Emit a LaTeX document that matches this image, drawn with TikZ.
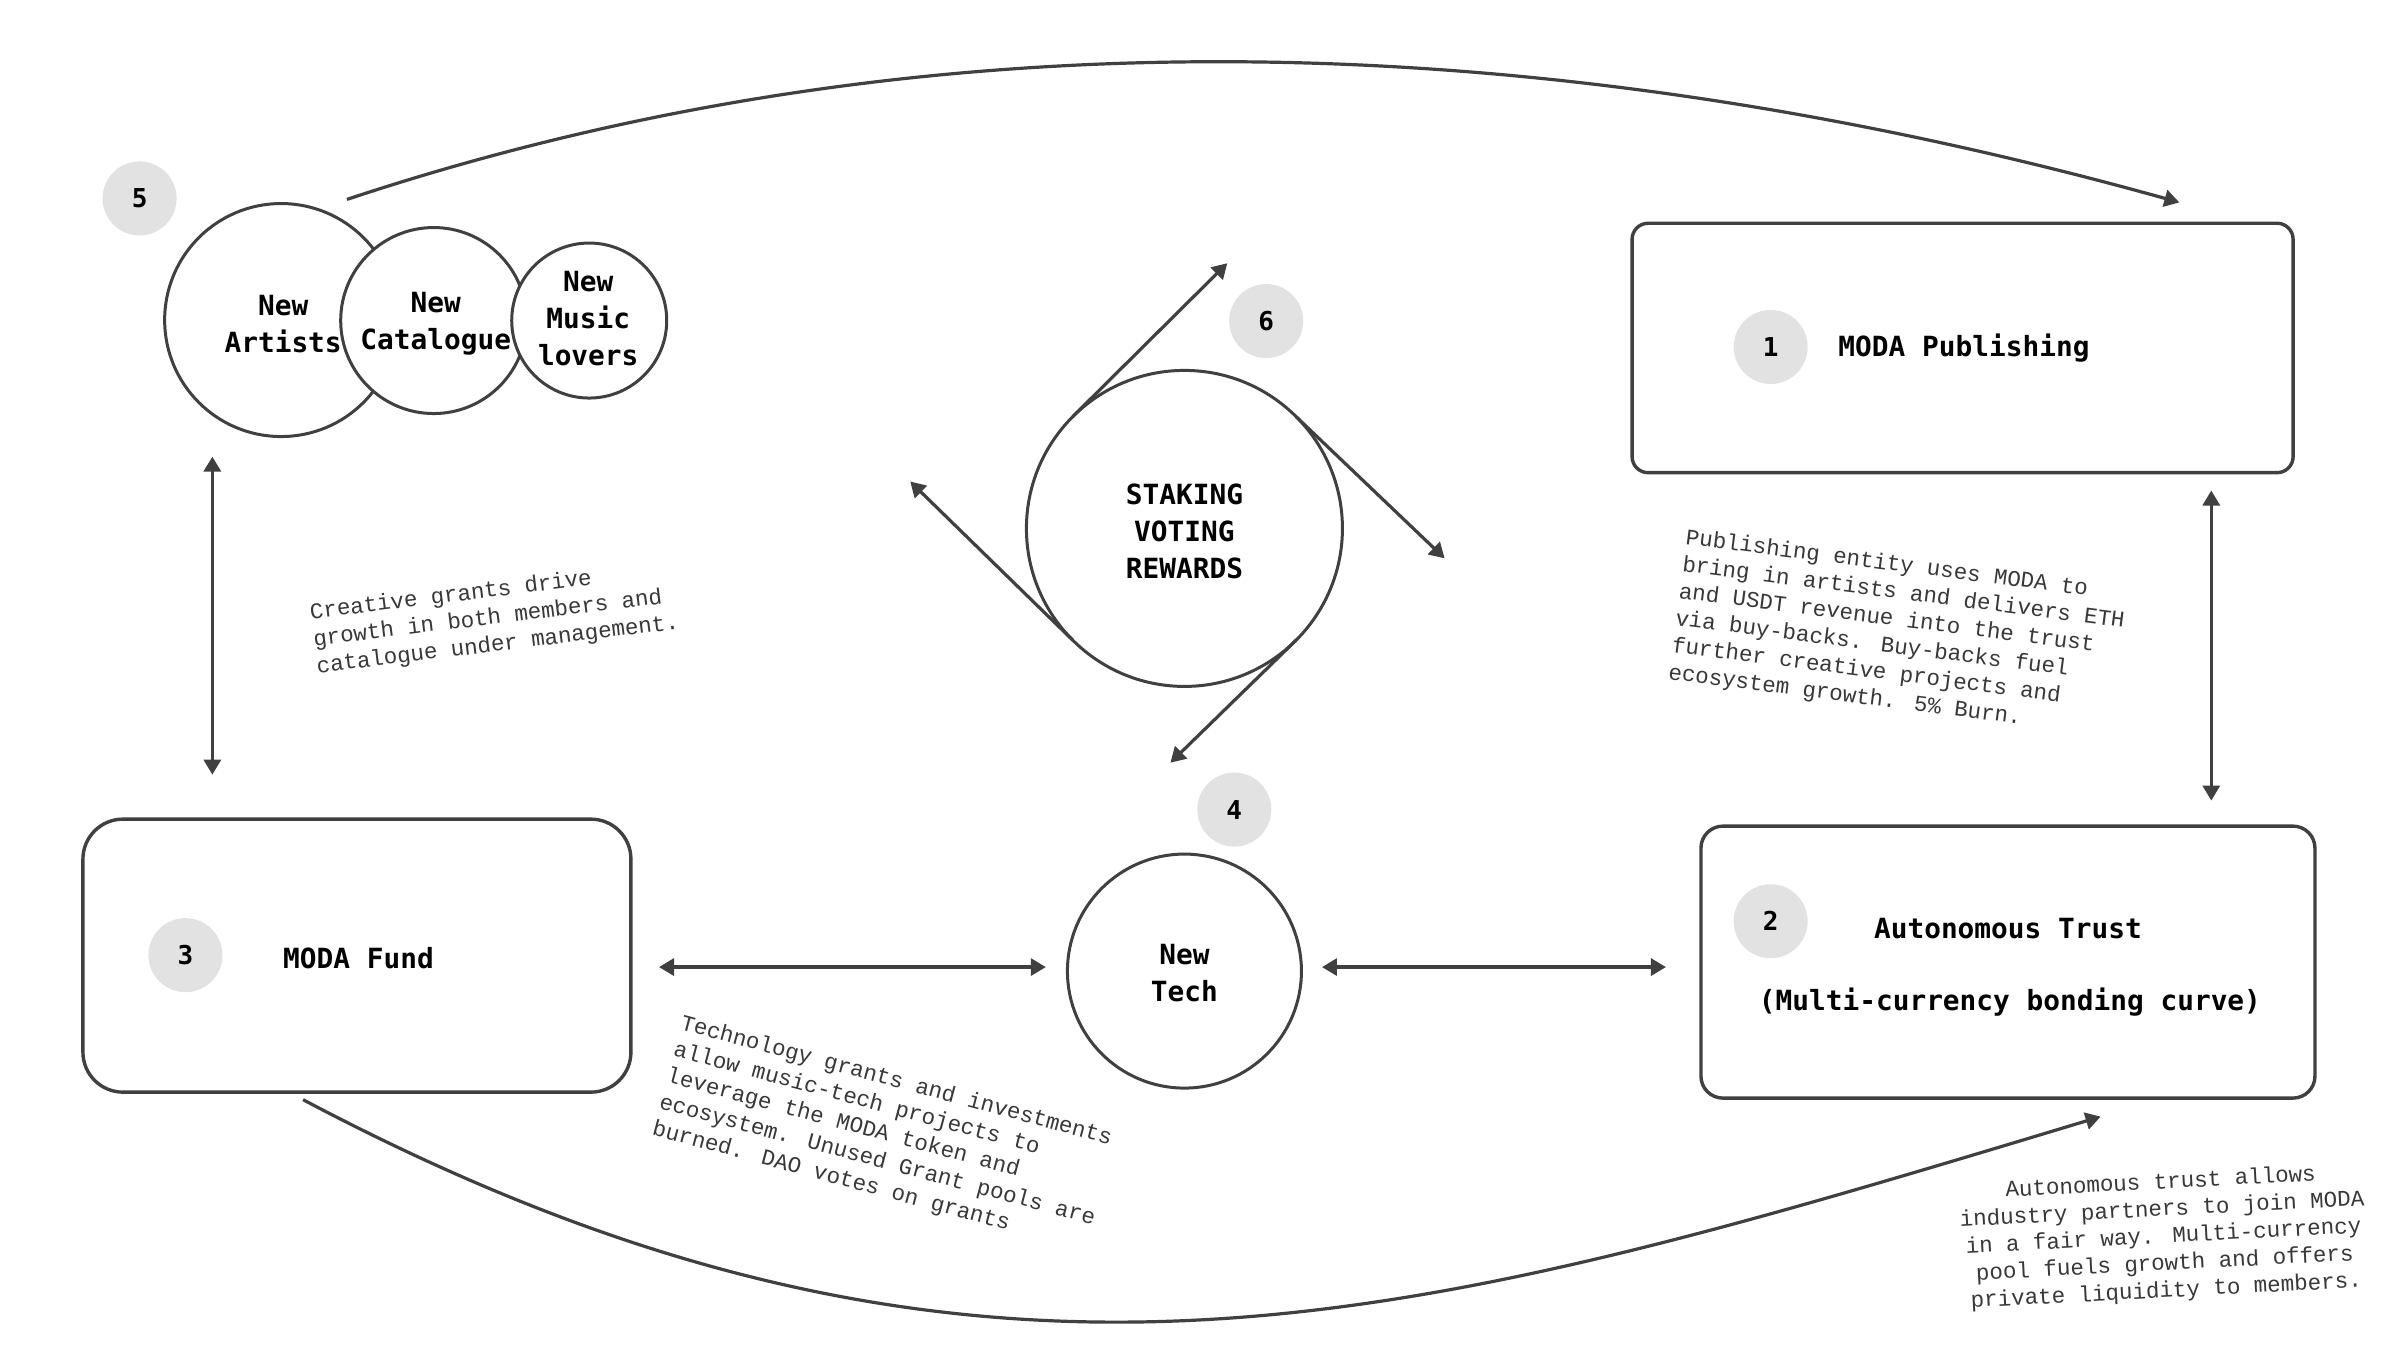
\documentclass[tikz,border=0pt]{standalone}
\usepackage{fontspec}
\usetikzlibrary{arrows.meta}
\newfontfamily\labfont{DejaVu Sans Mono}
\newfontfamily\notefont{Liberation Mono}
\definecolor{lncol}{HTML}{404040}
\definecolor{numfill}{HTML}{E2E2E2}
\definecolor{notecol}{HTML}{383838}
\begin{document}
\begin{tikzpicture}[x=0.5pt,y=-0.5pt,
  every node/.style={inner sep=0pt, outer sep=0pt},
  bub/.style={circle, draw=lncol, line width=1.5pt, fill=white},
  numc/.style={circle, fill=numfill, minimum size=37pt, font=\labfont\bfseries\fontsize{13pt}{15pt}\selectfont},
  lab/.style={font=\labfont\bfseries\fontsize{13.9pt}{18.5pt}\selectfont, align=center, text=black},
  note/.style={font=\notefont\fontsize{11.25pt}{13.6pt}\selectfont, text=notecol},
  rbox/.style={draw=lncol, line width=1.7pt, rectangle, fill=white},
  arr/.style={draw=lncol, line width=1.6pt, -{Triangle[length=7.5pt,width=8.5pt]}},
  darr/.style={draw=lncol, line width=1.6pt, {Triangle[length=7.5pt,width=8.5pt]}-{Triangle[length=7.5pt,width=8.5pt]}},
]
\fill[white] (0,0) rectangle (2400,1346);
\useasboundingbox (0,0) rectangle (2400,1346);

\begin{scope}[xscale=0.997, yscale=0.997]
% free ends
\coordinate (ta) at (348,200);
\coordinate (tb) at (2186,203);
\coordinate (ba) at (304,1103);
\coordinate (bb) at (2107,1120);
\coordinate (vl1) at (213,458);
\coordinate (vl2) at (213,777);
\coordinate (vr1) at (2218,492);
\coordinate (vr2) at (2218,803);
\coordinate (hl1) at (661,970);
\coordinate (hl2) at (1049,970);
\coordinate (hr1) at (1326,970);
\coordinate (hr2) at (1671,970);
\coordinate (sUR) at (1231,264);
\coordinate (sDR) at (1449,560);
\coordinate (sDL) at (1174,765);
\coordinate (sUL) at (913,483);

% big arcs
\draw[arr] (ta) .. controls (902,16) and (1515,16) .. (tb);
\draw[arr] (ba) .. controls (984,1463) and (1427,1325) .. (bb);

% cluster of circles
\node[bub, minimum size=116.5pt] (art) at (282,321) {};
\node[bub, minimum size=93pt] (cat) at (435,321.5) {};
\node[bub, minimum size=77.5pt] (lov) at (591,321.5) {};
\node[lab] (artT) at (284,325) {New\\Artists};
\node[lab] (catT) at (437,325) {New\\Catalogue};
\node[lab] (lovT) at (590,320) {New\\Music\\lovers};
\node[numc] (n5) at (140,199) {5};

% staking
\node[bub, minimum size=158pt] (stk) at (1188,530) {};
\node[lab] (stkT) at (1188,533) {STAKING\\VOTING\\REWARDS};
\node[numc] (n6) at (1270,322) {6};
\draw[arr] (stk.135) -- (sUR);
\draw[arr] (stk.45) -- (sDR);
\draw[arr] (stk.-45) -- (sDL);
\draw[arr] (stk.-135) -- (sUL);

% new tech
\node[bub, minimum size=117pt] (tech) at (1188,974) {};
\node[lab] (techT) at (1188,976) {New\\Tech};
\node[numc] (n4) at (1238,812) {4};

% boxes
\node[rbox, minimum width=330.5pt, minimum height=124.7pt, rounded corners=8pt] (b1) at (1968.5,349) {};
\node[numc] (n1) at (1776,348) {1};
\node[lab, anchor=west] (b1T) at (1844,349) {MODA Publishing};

\node[rbox, minimum width=307pt, minimum height=136pt, rounded corners=11pt] (b2) at (2014,965) {};
\node[numc] (n2) at (1776,924) {2};
\node[lab] (b2T) at (2014,931) {Autonomous Trust};
\node[lab] (b2S) at (2016,1005) {(Multi-currency bonding curve)};

\node[rbox, minimum width=274pt, minimum height=136.5pt, rounded corners=20pt] (b3) at (358,958.5) {};
\node[numc] (n3) at (186,958) {3};
\node[lab, anchor=west] (b3T) at (284,961) {MODA Fund};

% straight double arrows
\draw[darr] (vl1) -- (vl2);
\draw[darr] (vr1) -- (vr2);
\draw[darr] (hl1) -- (hl2);
\draw[darr] (hr1) -- (hr2);

% notes
\node[note, align=left, rotate=7] (nC) at (496,620) {Creative grants drive\\growth in both members and\\catalogue under management.};
\node[note, align=left, rotate=-7.3] (nP) at (1904,636) {Publishing entity uses MODA to\\bring in artists and delivers ETH\\and USDT revenue into the trust\\via buy-backs. Buy-backs fuel\\further creative projects and\\ecosystem growth. 5\% Burn.};
\node[note, align=left, rotate=-15] (nT) at (887,1138) {Technology grants and investments\\allow music-tech projects to\\leverage the MODA token and\\ecosystem. Unused Grant pools are\\burned. DAO votes on grants};
\node[note, align=center, rotate=3] (nA) at (2170,1241) {Autonomous trust allows\\industry partners to join MODA\\in a fair way. Multi-currency\\pool fuels growth and offers\\private liquidity to members.};
\end{scope}
\end{tikzpicture}
\end{document}
